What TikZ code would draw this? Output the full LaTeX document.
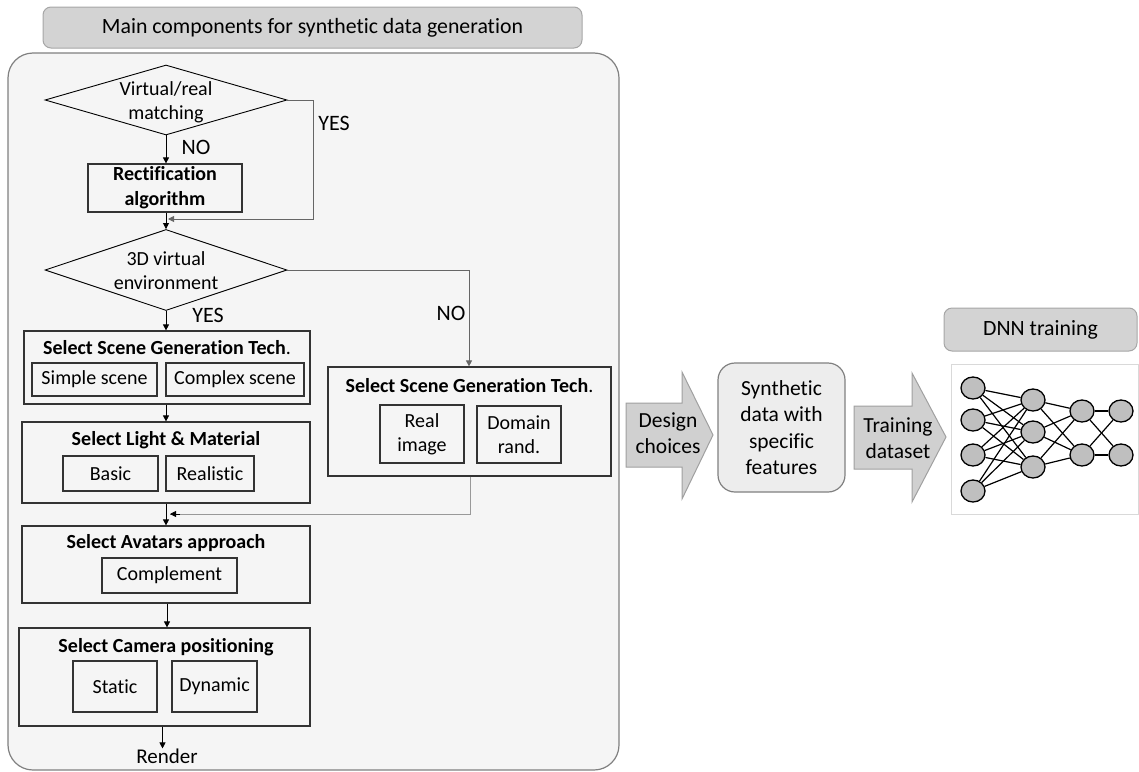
\documentclass[tikz,border=0pt]{standalone}
\usepackage{fontspec}
\setmainfont{Carlito}[Ligatures=NoCommon]
\usetikzlibrary{shapes.geometric,arrows.meta}
\definecolor{titlefill}{HTML}{D3D3D3}
\definecolor{titleline}{HTML}{A6A6A6}
\definecolor{outerfill}{HTML}{F5F5F5}
\definecolor{outerline}{HTML}{808080}
\definecolor{boxline}{HTML}{333333}
\definecolor{branch}{HTML}{666666}
\definecolor{branchlight}{HTML}{999999}
\definecolor{synthfill}{HTML}{EDEDED}
\definecolor{bigarrow}{HTML}{D0D0D0}
\definecolor{bigarrowline}{HTML}{A0A0A0}
\definecolor{neuron}{HTML}{BFBFBF}
\definecolor{framecol}{HTML}{D9D9D9}
\begin{document}
\begin{tikzpicture}[x=1pt,y=-1pt,
  every node/.style={font=\fontsize{20}{24}\selectfont, text=black},
  bigtxt/.style={font=\fontsize{21.5}{26.5}\selectfont, align=center},
  headbox/.style={draw=titleline, fill=titlefill, rounded corners=8pt, line width=1pt, inner sep=0pt},
  box/.style={draw=boxline, line width=1.2pt, inner sep=0pt},
  sub/.style={draw=boxline, line width=1.2pt, inner sep=0pt, align=center},
  dec/.style={draw=black, line width=0.9pt, diamond, inner sep=0pt},
  ttl/.style={font=\fontsize{20}{24}\selectfont\bfseries},
  lbl/.style={inner sep=0pt},
  yn/.style={inner sep=0pt, font=\fontsize{22}{26}\selectfont},
  arr/.style={draw=black, line width=0.8pt, -{Triangle[length=6pt,width=6pt]}},
  brarr/.style={draw=branch, line width=0.9pt, -{Triangle[length=6pt,width=6pt]}},
  lightarr/.style={draw=branchlight, line width=0.9pt},
  neur/.style={ellipse, draw=black, line width=1.3pt, fill=neuron, minimum width=24, minimum height=22, inner sep=0pt},
  nnline/.style={draw=black, line width=1.2pt}
]
\useasboundingbox (0,0) rectangle (1139,771);

% ---------- left panel ----------
\node[headbox, minimum width=539, minimum height=41, font=\fontsize{21.8}{26}\selectfont] (title) at (312.5,27.5) {Main components for synthetic data generation};
\node[draw=outerline, fill=outerfill, rounded corners=25pt, line width=1.2pt, minimum width=611, minimum height=717, inner sep=0pt] (outer) at (313.5,411.5) {};

% decision 1
\node[dec, minimum width=242, minimum height=70] (d1) at (166,100) {};
\node[align=center, lbl] (d1t) at (166,102) {Virtual/real\\matching};
\node[yn] (no1) at (196,147) {NO};
\node[yn] (yes1) at (334,123) {YES};

% rectification
\node[box, minimum width=154, minimum height=48, align=center, font=\fontsize{20}{25}\selectfont\bfseries] (rect) at (165,188) {Rectification\\algorithm};

% decision 2
\node[dec, minimum width=242, minimum height=81] (d2) at (166,270) {};
\node[align=center, lbl] (d2t) at (166,271) {3D virtual\\environment};
\node[yn] (yes2) at (208,315) {YES};
\node[yn] (no2) at (451,313) {NO};

% scene (left)
\node[box, minimum width=286, minimum height=73] (sceneL) at (167,367.5) {};
\node[lbl] (sceneLt) at (167,348) {{\bfseries Select Scene Generation Tech}.};
\node[sub, minimum width=125, minimum height=33] (simple) at (94.5,379.5) {Simple scene};
\node[sub, minimum width=138, minimum height=33] (complex) at (235,379.5) {Complex scene};

% scene (right)
\node[box, minimum width=283, minimum height=109] (sceneR) at (469.5,421.5) {};
\node[lbl] (sceneRt) at (469.5,386) {{\bfseries Select Scene Generation Tech}.};
\node[sub, minimum width=84, minimum height=58, font=\fontsize{20}{24}\selectfont] (realimg) at (422,434) {Real\\image};
\node[sub, minimum width=84, minimum height=57, font=\fontsize{20}{24}\selectfont] (domain) at (519,434.5) {Domain\\rand.};

% light
\node[box, minimum width=288, minimum height=81] (light) at (166,462.5) {};
\node[lbl, ttl] (lightt) at (166,440) {Select Light \& Material};
\node[sub, minimum width=95, minimum height=35] (basic) at (110.5,473.5) {Basic};
\node[sub, minimum width=88, minimum height=35] (realistic) at (210,473.5) {Realistic};

% avatars
\node[box, minimum width=288, minimum height=77] (avatars) at (166,564.5) {};
\node[lbl, ttl] (avatarst) at (166,543) {Select Avatars approach};
\node[sub, minimum width=135, minimum height=35] (complement) at (169.5,575.5) {Complement};

% camera
\node[box, minimum width=291, minimum height=98] (camera) at (164.5,677) {};
\node[lbl, ttl] (camerat) at (166,647) {Select Camera positioning};
\node[sub, minimum width=84, minimum height=51] (static) at (115,686.5) {Static};
\node[sub, minimum width=85, minimum height=51] (dynamic) at (214.5,686.5) {Dynamic};

\node[lbl, font=\fontsize{21}{25}\selectfont] (render) at (167,756) {Render};

% connectors
\coordinate (yesc) at (313,219);
\coordinate (j1) at (168,219);
\coordinate (noc) at (469,270);
\coordinate (j2a) at (470,514);
\coordinate (j2) at (170,514);

\draw[arr] (d1.south) -- (d1.south |- rect.north);
\draw[brarr] (d1.east) -| (yesc) -- (j1);
\draw[arr] (rect.south -| d1.south) -- (d2.north);
\draw[arr] (d2.south) -- (d2.south |- sceneL.north);
\draw[brarr] (d2.east) -- (noc) -- (noc |- sceneR.north);
\draw[arr] (sceneL.south -| d2.south) -- (d2.south |- light.north);
\draw[arr] (light.south -| d2.south) -- (d2.south |- avatars.north);
\draw[lightarr] (sceneR.south -| j2a) -- (j2a) -- (j2);
\draw[draw=black, -{Triangle[length=6pt,width=6pt]}, line width=0.8pt] ([xshift=10pt]j2) -- (j2);
\draw[arr] ([xshift=1pt]avatars.south) -- ([xshift=1pt]avatars.south |- camera.north);
\draw[arr] ([xshift=-2pt]camera.south) -- ([xshift=-2pt]camera.south |- render.north);

% ---------- right part ----------
\draw[draw=bigarrowline, fill=bigarrow, line width=1pt] (626,403) -- (682,403) -- (682,372) -- (713,435) -- (682,499) -- (682,467) -- (626,467) -- cycle;
\node[bigtxt, lbl] (design) at (668,433) {Design\\choices};

\node[draw=outerline, fill=synthfill, rounded corners=17pt, line width=1.2pt, minimum width=127, minimum height=129, inner sep=0pt, bigtxt] (synth) at (781.5,427.5) {Synthetic\\data with\\specific\\features};

\draw[draw=bigarrowline, fill=bigarrow, line width=1pt] (854,406) -- (912,406) -- (912,373) -- (946,437) -- (912,502) -- (912,469) -- (854,469) -- cycle;
\node[bigtxt, lbl] (training) at (898,438) {Training\\dataset};

\node[headbox, minimum width=193, minimum height=43, font=\fontsize{21.8}{26}\selectfont] (dnn) at (1040.5,329.5) {DNN training};
\node[draw=framecol, fill=white, line width=1pt, minimum width=187, minimum height=150, inner sep=0pt] (frame) at (1044.5,439) {};

\foreach \n/\x/\y in {a1/973/388, a2/973/420, a3/973/455, a4/973/491,
                      b1/1033/400, b2/1033/432, b3/1033/467,
                      c1/1082/411, c2/1082/455, e1/1121/411, e2/1121/455}
  \node[neur] (n\n) at (\x,\y) {};
\foreach \i in {1,...,4}
  \foreach \j in {1,...,3}
    \draw[nnline] (na\i) -- (nb\j);
\foreach \i in {1,...,3}
  \foreach \j in {1,2}
    \draw[nnline] (nb\i) -- (nc\j);
\foreach \i in {1,2}
  \foreach \j in {1,2}
    \draw[nnline] (nc\i) -- (ne\j);
\end{tikzpicture}
\end{document}
